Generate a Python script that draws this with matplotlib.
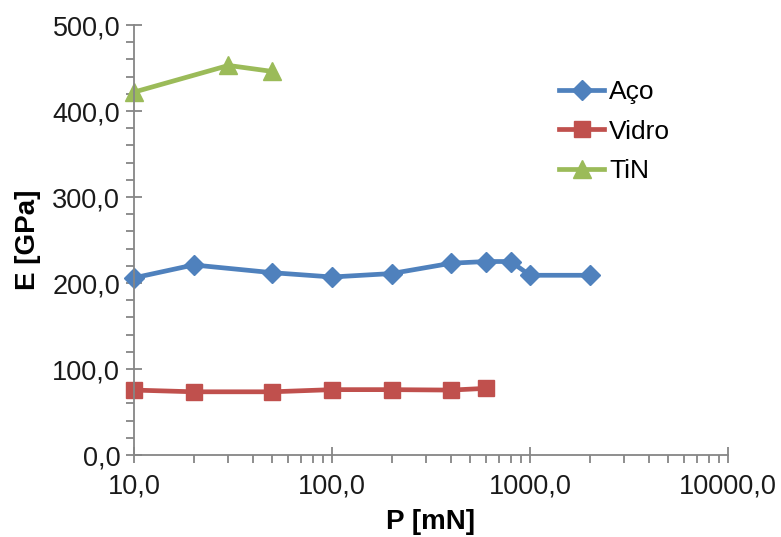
import matplotlib
matplotlib.use("Agg")
import matplotlib.pyplot as plt
from matplotlib.ticker import FixedLocator, FuncFormatter, LogLocator, NullFormatter

# data
p_aco = [10, 20, 50, 100, 200, 400, 600, 800, 1000, 2000]
e_aco = [206, 221, 212, 207, 211, 223, 225, 225, 209, 209]

p_vidro = [10, 20, 50, 100, 200, 400, 600]
e_vidro = [75.5, 73.5, 73.5, 76, 76, 75.5, 77.5]

p_tin = [10, 30, 50]
e_tin = [422, 453, 446]

BLUE = "#4F81BD"
RED = "#C0504D"
GREEN = "#9BBB59"
AXIS_GREY = "#868686"

plt.rcParams["font.family"] = ["Liberation Sans", "DejaVu Sans"]

fig = plt.figure(figsize=(7.81, 5.37), dpi=100)
ax = fig.add_axes([0.1716, 0.1527, 0.932 - 0.1716, 0.9534 - 0.1527])

ax.plot(p_aco, e_aco, color=BLUE, lw=3.4, marker="D", ms=10, label="Aço", clip_on=False)
ax.plot(p_vidro, e_vidro, color=RED, lw=3.4, marker="s", ms=11.5, label="Vidro", clip_on=False)
ax.plot(p_tin, e_tin, color=GREEN, lw=3.4, marker="^", ms=13.5, label="TiN", clip_on=False)

ax.set_xscale("log")
ax.set_xlim(10, 10000)
ax.set_ylim(0, 500)

ax.xaxis.set_major_locator(FixedLocator([10, 100, 1000, 10000]))
ax.xaxis.set_minor_locator(LogLocator(base=10, subs=range(2, 10)))
ax.xaxis.set_minor_formatter(NullFormatter())
ax.yaxis.set_major_locator(FixedLocator(range(0, 501, 100)))
ax.yaxis.set_minor_locator(FixedLocator(range(0, 501, 20)))

comma = FuncFormatter(lambda v, pos: f"{v:.1f}".replace(".", ","))
ax.xaxis.set_major_formatter(comma)
ax.yaxis.set_major_formatter(comma)

for s in ("top", "right"):
    ax.spines[s].set_visible(False)
for s in ("left", "bottom"):
    ax.spines[s].set_color(AXIS_GREY)
    ax.spines[s].set_linewidth(1.3)

ax.tick_params(axis="both", which="major", direction="inout", length=12, width=1.3,
               color=AXIS_GREY, labelsize=19.5, labelcolor="#1a1a1a")
ax.tick_params(axis="both", which="minor", direction="out", length=6, width=1.3,
               color=AXIS_GREY)
ax.tick_params(axis="x", which="major", pad=7)
ax.tick_params(axis="y", which="major", pad=4)

# the reference crops this label at the bottom edge; keep it just inside
ax.set_xlabel("P [mN]", fontsize=20, fontweight="bold", labelpad=7)
ax.set_ylabel("E [GPa]", fontsize=20, fontweight="bold", labelpad=8)

ax.legend(loc="upper left", bbox_to_anchor=(0.698, 0.896), frameon=False, fontsize=19,
          handlelength=1.7, handletextpad=0.2, labelspacing=0.58, borderaxespad=0)

fig.savefig("out.png", dpi=100)
